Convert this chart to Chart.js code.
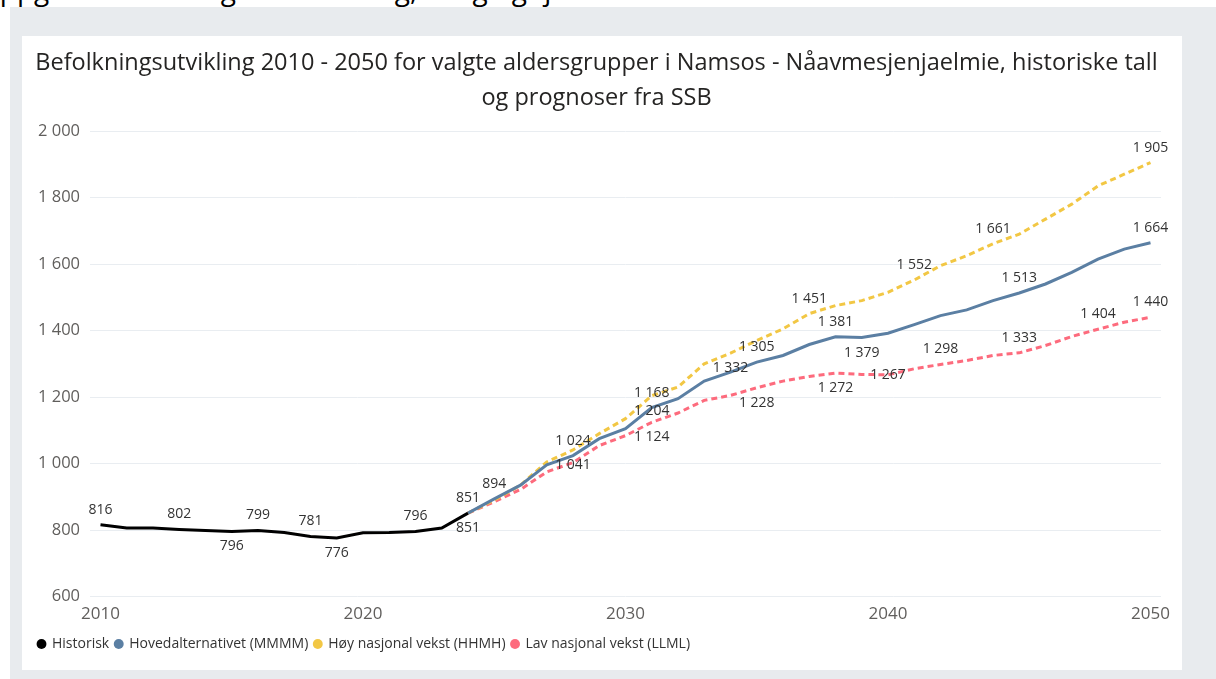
<!DOCTYPE html>
<html>
<head>
<meta charset="utf-8">
<script src="https://cdn.jsdelivr.net/npm/chart.js@4.4.0/dist/chart.umd.min.js"></script>
<style>
body { margin:0; background:#fff; width:1216px; height:679px; overflow:hidden; position:relative; font-family:'Open Sans', sans-serif; }
#topText { position:absolute; left:-22px; top:-30px; font-size:28px; line-height:38px; color:#000; white-space:nowrap; }
#bg { position:absolute; left:10px; top:7px; right:0; bottom:0; background:#e8ebee; }
#card { position:absolute; left:22px; top:36px; width:1160px; height:634px; background:#fff; }
</style>
</head>
<body>
<div id="topText">Oppgaver i helse og eldreomsorg, bolig og tjenester</div>
<div id="bg"></div>
<div id="card"><canvas id="graf" width="1160" height="634"></canvas></div>
<script>
// historiske tall
const histYears  = [2010, 2011, 2012, 2013, 2014, 2015, 2016, 2017, 2018, 2019, 2020, 2021, 2022, 2023, 2024];
const histValues = [816, 806, 806, 802, 799, 796, 799, 793, 781, 776, 792, 793, 796, 806, 851];

// prognoser SSB
const progYears = [2024, 2025, 2026, 2027, 2028, 2029, 2030, 2031, 2032, 2033, 2034, 2035, 2036, 2037,
                   2038, 2039, 2040, 2041, 2042, 2043, 2044, 2045, 2046, 2047, 2048, 2049, 2050];
const mainValues = [851, 894, 935, 996, 1024, 1075, 1105, 1168, 1195, 1248, 1275, 1305, 1325, 1358,
                    1381, 1379, 1392, 1418, 1445, 1462, 1490, 1513, 1540, 1575, 1615, 1645, 1664];
const highValues = [851, 890, 935, 1005, 1041, 1090, 1135, 1204, 1230, 1300, 1332, 1370, 1405, 1451,
                    1475, 1490, 1515, 1552, 1595, 1625, 1661, 1690, 1735, 1780, 1835, 1870, 1905];
const lowValues  = [851, 885, 922, 975, 1003, 1054, 1084, 1124, 1152, 1190, 1205, 1228, 1248, 1262,
                    1272, 1268, 1267, 1285, 1298, 1310, 1325, 1333, 1355, 1382, 1404, 1425, 1440];

const xTicks = [2010, 2020, 2030, 2040, 2050];
const yTicks = [600, 800, 1000, 1200, 1400, 1600, 1800, 2000];
const seriesNames = ['Historisk', 'Hovedalternativet (MMMM)', 'Høy nasjonal vekst (HHMH)', 'Lav nasjonal vekst (LLML)'];

// hvilke punkter som får etikett (opp / ned / midt)
const histLabels = {2010: 'opp', 2013: 'opp', 2015: 'ned', 2016: 'opp', 2018: 'opp', 2019: 'ned', 2022: 'opp', 2024: 'opp'};
const mainLabels = {2025: 'opp', 2028: 'opp', 2031: 'opp', 2035: 'opp', 2038: 'opp', 2039: 'ned', 2045: 'opp', 2050: 'opp'};
const highLabels = {2028: 'ned', 2031: 'ned', 2034: 'ned', 2037: 'opp', 2041: 'opp', 2044: 'opp', 2050: 'opp'};
const lowLabels  = {2024: 'ned', 2031: 'ned', 2035: 'ned', 2038: 'ned', 2040: 'midt', 2042: 'opp', 2045: 'opp', 2048: 'opp', 2050: 'opp'};

function tall(v) {
    return String(v).replace(/\B(?=(\d{3})+(?!\d))/g, ' ');
}

function punkter(years, values) {
    return years.map((y, i) => ({x: y, y: values[i]}));
}

const etiketter = {
    id: 'etiketter',
    afterDatasetsDraw(chart) {
        const ctx = chart.ctx;
        ctx.save();
        ctx.font = '14px "Open Sans"';
        ctx.fillStyle = '#333';
        ctx.textAlign = 'center';
        ctx.textBaseline = 'middle';
        chart.data.datasets.forEach((ds, i) => {
            const meta = chart.getDatasetMeta(i);
            ds.data.forEach((p, j) => {
                const pos = ds.labelAt[p.x];
                if (!pos) return;
                const el = meta.data[j];
                const dy = pos === 'opp' ? -15 : (pos === 'ned' ? 15 : 0);
                ctx.fillText(tall(p.y), el.x, el.y + dy);
            });
        });
        ctx.restore();
    }
};

const farger = ['#000000', '#5b7fa3', '#f2c744', '#fd6b7d'];

new Chart(document.getElementById('graf'), {
    type: 'line',
    data: {
        datasets: [
            {label: seriesNames[0], data: punkter(histYears, histValues), borderColor: farger[0], labelAt: histLabels},
            {label: seriesNames[1], data: punkter(progYears, mainValues), borderColor: farger[1], labelAt: mainLabels},
            {label: seriesNames[2], data: punkter(progYears, highValues), borderColor: farger[2], borderDash: [6, 4], labelAt: highLabels},
            {label: seriesNames[3], data: punkter(progYears, lowValues), borderColor: farger[3], borderDash: [6, 4], labelAt: lowLabels}
        ]
    },
    options: {
        responsive: false,
        animation: false,
        layout: {padding: {left: 10, right: 21, top: 0, bottom: 9}},
        elements: {
            line: {borderWidth: 3, tension: 0, borderCapStyle: 'butt'},
            point: {radius: 0}
        },
        plugins: {
            title: {
                display: true,
                text: ['Befolkningsutvikling 2010 - 2050 for valgte aldersgrupper i Namsos - Nåavmesjenjaelmie, historiske tall',
                       'og prognoser fra SSB'],
                color: '#252423',
                font: {family: 'Open Sans', size: 23.5, weight: 'normal', lineHeight: '35px'},
                padding: {top: 10, bottom: 15}
            },
            legend: {
                position: 'bottom',
                align: 'start',
                labels: {
                    usePointStyle: true,
                    boxWidth: 7,
                    boxHeight: 7,
                    padding: 6,
                    color: '#333',
                    font: {family: 'Open Sans', size: 14},
                    generateLabels: chart => chart.data.datasets.map((ds, i) => ({
                        text: ds.label,
                        fillStyle: farger[i],
                        strokeStyle: farger[i],
                        lineWidth: 0,
                        pointStyle: 'circle',
                        fontColor: '#333',
                        datasetIndex: i
                    }))
                }
            },
            tooltip: {enabled: false}
        },
        scales: {
            x: {
                type: 'linear',
                min: 2009.6,
                max: 2050.4,
                afterBuildTicks: s => { s.ticks = xTicks.map(v => ({value: v})); },
                grid: {display: false, drawTicks: false},
                border: {display: false},
                ticks: {color: '#605e5c', font: {family: 'Open Sans', size: 17}, padding: 7, callback: v => String(v), maxRotation: 0}
            },
            y: {
                min: 600,
                max: 2000,
                afterBuildTicks: s => { s.ticks = yTicks.map(v => ({value: v})); },
                afterFit: s => { s.width = 58; },
                grid: {color: '#e9edf1', drawTicks: false},
                border: {display: false},
                ticks: {color: '#605e5c', font: {family: 'Open Sans', size: 16.5}, padding: 10, callback: v => tall(v)}
            }
        }
    },
    plugins: [etiketter]
});
</script>
</body>
</html>
